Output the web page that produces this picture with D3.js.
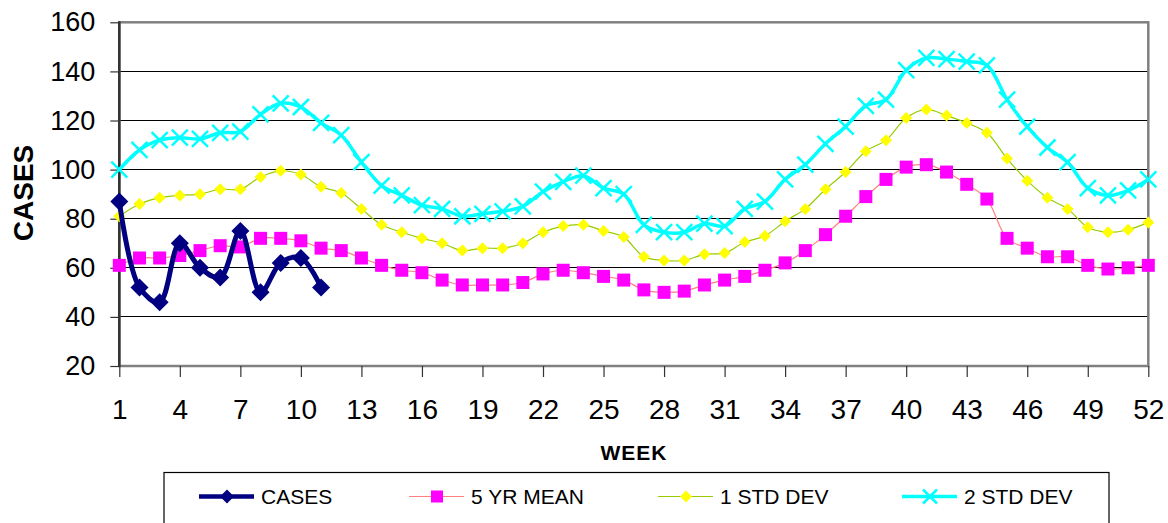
<!DOCTYPE html>
<html>
<head>
<meta charset="utf-8">
<script src="https://cdn.jsdelivr.net/npm/d3@7"></script>
<style>
  body { margin: 0; background: #fff; }
  svg { display: block; font-family: Arial, "Liberation Sans", sans-serif; }
</style>
</head>
<body>
<svg id="chart" width="1168" height="523"></svg>
<script>
// weekly values
var weeks = d3.range(1, 53);
var cases = [87, 52, 46, 70, 60, 56, 75, 50, 62, 64, 52];
var mean5 = [61, 64, 64, 65, 67, 69, 68.5, 72, 72, 71,
             68, 67, 64, 61, 59, 58, 55, 53, 53, 53,
             54, 57.5, 59, 58, 56.5, 55, 51, 50, 50.5, 53,
             55, 56.5, 59, 62, 67, 73.5, 81, 89, 96, 101,
             102, 99, 94, 88, 72, 68, 64.5, 64.5, 61, 59.5, 60, 61];
var std1 = [81, 86, 88.5, 89.5, 90, 92, 92, 97, 99.5, 98,
            93, 90.5, 84, 77.5, 74.5, 72, 70, 67, 68, 68,
            70, 74.5, 77, 77.5, 75, 72.5, 64.5, 63, 63, 65.5,
            66, 70.5, 73, 79, 84, 92, 99, 107.5, 112, 121,
            124.5, 122, 119, 115, 104.5, 95.5, 88.5, 84, 76.5, 74.5, 75.5, 78.5];
var std2 = [100, 108, 112, 113, 112.5, 115, 115.5, 122.5, 127, 125.5,
            119, 114, 103, 93.5, 89.5, 85.5, 84, 81, 82, 83,
            85, 91, 95, 97.5, 92.5, 90, 77.5, 74.5, 74.5, 78,
            77, 84, 87, 96, 102, 110.5, 117.5, 126, 128.5, 140.5,
            145.5, 145, 144, 142.5, 128.5, 117.5, 109, 103, 92.5, 89.5, 91.5, 96];
var xTicks = d3.range(1, 53, 3);
var yTicks = [20, 40, 60, 80, 100, 120, 140, 160];
var seriesNames = ["CASES", "5 YR MEAN", "1 STD DEV", "2 STD DEV"];

var svg = d3.select('#chart');

var x = d3.scaleLinear().domain([1, 52]).range([119.3, 1148.3]);
var y = d3.scaleLinear().domain([20, 160]).range([366, 22.3]);

var series = [
    { name: seriesNames[3], values: std2, line: '#00FFFF', lw: 3.5, marker: 'x', fill: 'none', stroke: '#00FFFF', size: 8 },
    { name: seriesNames[2], values: std1, line: '#99CC00', lw: 1.2, marker: 'diamond', fill: '#FFFF00', stroke: 'none', size: 6 },
    { name: seriesNames[1], values: mean5, line: '#FF8080', lw: 1.2, marker: 'square', fill: '#FF00FF', stroke: 'none', size: 6.5 },
    { name: seriesNames[0], values: cases, line: '#000080', lw: 5, marker: 'diamond', fill: '#000080', stroke: 'none', size: 9 }
];

// gridlines
svg.append('g')
    .selectAll('line')
    .data(yTicks.filter(function(d) { return d > 20 && d < 160; }))
    .enter().append('line')
    .attr('x1', x(1)).attr('x2', x(52))
    .attr('y1', function(d) { return y(d); })
    .attr('y2', function(d) { return y(d); })
    .attr('stroke', '#000')
    .attr('stroke-width', 1)
    .attr('shape-rendering', 'crispEdges');

// frame
svg.append('rect')
    .attr('x', x(1)).attr('y', y(160))
    .attr('width', x(52) - x(1)).attr('height', y(20) - y(160))
    .attr('fill', 'none')
    .attr('stroke', '#808080')
    .attr('stroke-width', 2.5);

// axes
var xAxis = svg.append('g')
    .attr('transform', 'translate(0,' + y(20) + ')')
    .call(d3.axisBottom(x).tickValues(xTicks).tickSize(11).tickPadding(22).tickFormat(d3.format('d')));
var yAxis = svg.append('g')
    .attr('transform', 'translate(' + x(1) + ',0)')
    .call(d3.axisLeft(y).tickValues(yTicks).tickSize(9).tickPadding(15));

[xAxis, yAxis].forEach(function(a) {
    a.select('.domain').remove();
    a.selectAll('line').attr('stroke', '#333').attr('stroke-width', 1.2);
    a.selectAll('text')
        .attr('fill', '#000')
        .style('font-family', 'Arial, "Liberation Sans", sans-serif')
        .style('font-size', '27px');
});
xAxis.selectAll('text').style('font-size', '28px');

svg.append('line')
    .attr('x1', x(1)).attr('x2', x(1))
    .attr('y1', y(160) - 1).attr('y2', y(20) + 1)
    .attr('stroke', '#333').attr('stroke-width', 2.5);

// markers
function markerPath(type, s) {
    if (type === 'diamond') return 'M0,' + (-s) + 'L' + s + ',0L0,' + s + 'L' + (-s) + ',0Z';
    if (type === 'square') return 'M' + (-s) + ',' + (-s) + 'H' + s + 'V' + s + 'H' + (-s) + 'Z';
    return 'M' + (-s) + ',' + (-s) + 'L' + s + ',' + s + 'M' + s + ',' + (-s) + 'L' + (-s) + ',' + s;
}

var line = d3.line()
    .x(function(d, i) { return x(weeks[i]); })
    .y(function(d) { return y(d); })
    .curve(d3.curveCatmullRom);

series.forEach(function(s) {
    var g = svg.append('g');
    g.append('path')
        .attr('d', line(s.values))
        .attr('fill', 'none')
        .attr('stroke', s.line)
        .attr('stroke-width', s.lw)
        .attr('stroke-linejoin', 'round');
    g.selectAll('path.m')
        .data(s.values)
        .enter().append('path')
        .attr('class', 'm')
        .attr('d', markerPath(s.marker, s.size))
        .attr('transform', function(d, i) { return 'translate(' + x(weeks[i]) + ',' + y(d) + ')'; })
        .attr('fill', s.fill)
        .attr('stroke', s.stroke)
        .attr('stroke-width', s.marker === 'x' ? 2.5 : 0);
});

// axis titles
svg.append('text')
    .attr('x', 634).attr('y', 459.5)
    .attr('text-anchor', 'middle')
    .style('font-size', '21px').style('font-weight', 'bold').style('letter-spacing', '1px')
    .text('WEEK');

svg.append('text')
    .attr('transform', 'translate(33,193) rotate(-90)')
    .attr('text-anchor', 'middle')
    .style('font-size', '28px').style('font-weight', 'bold')
    .text('CASES');

// legend
svg.append('rect')
    .attr('x', 164).attr('y', 472.5)
    .attr('width', 1109 - 164).attr('height', 80)
    .attr('fill', '#fff').attr('stroke', '#000').attr('stroke-width', 1.2);

var legendX = [199, 409, 658, 902];
var legendOrder = series.slice().reverse();
var lg = svg.append('g').selectAll('g')
    .data(legendOrder)
    .enter().append('g')
    .attr('transform', function(d, i) { return 'translate(' + legendX[i] + ',496.5)'; });

lg.append('line')
    .attr('x1', 0).attr('x2', 55)
    .attr('stroke', function(d) { return d.line; })
    .attr('stroke-width', function(d) { return Math.min(d.lw, 4.5); });
lg.append('path')
    .attr('transform', 'translate(28,0)')
    .attr('d', function(d) { return markerPath(d.marker, d.marker === 'x' ? 7 : (d.name === 'CASES' ? 7 : 6)); })
    .attr('fill', function(d) { return d.fill; })
    .attr('stroke', function(d) { return d.stroke; })
    .attr('stroke-width', function(d) { return d.marker === 'x' ? 2.5 : 0; });
lg.append('text')
    .attr('x', 62).attr('y', 7.5)
    .style('font-size', '21px')
    .text(function(d) { return d.name; });
</script>
</body>
</html>
